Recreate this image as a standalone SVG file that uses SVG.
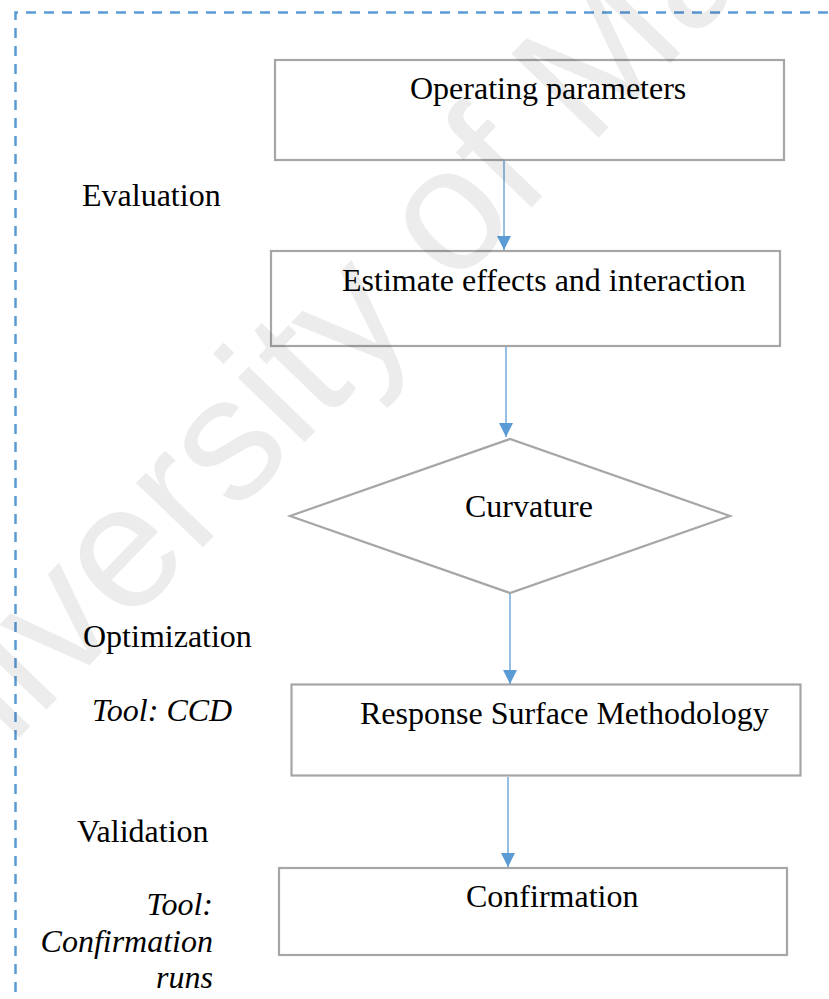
<svg xmlns="http://www.w3.org/2000/svg" width="829" height="999" viewBox="0 0 829 999">
  <defs>
    <style>
      .box { fill: #ffffff; stroke: #a6a6a6; stroke-width: 2.2; }
      .lbl { font-family: "Liberation Serif", "Times New Roman", serif; font-size: 32px; fill: #000000; }
      .it { font-style: italic; }
      .conn { stroke: #5b9bd5; stroke-width: 1.3; fill: none; marker-end: url(#head); }
      .frame { fill: none; stroke: #5b9bd5; stroke-width: 2.5; stroke-dasharray: 10 8; }
      .wm { font-family: "Liberation Sans", Arial, sans-serif; font-size: 176px; fill: #000000; fill-opacity: 0.075; }
    </style>
    <marker id="head" markerUnits="userSpaceOnUse" markerWidth="14" markerHeight="14" refX="14" refY="7" orient="auto">
      <path d="M0,0 L14,7 L0,14 Z" fill="#5b9bd5"/>
    </marker>
  </defs>

  <rect width="829" height="999" fill="#ffffff"/>

  <!-- dashed enclosing frame (runs off the right and bottom edges) -->
  <path class="frame" d="M15.5,1010 V12.5 H840"/>

  <!-- stage labels on the left -->
  <g id="stage-labels">
    <text class="lbl" x="82" y="206">Evaluation</text>
    <text class="lbl" x="83" y="647">Optimization</text>
    <text class="lbl it" x="92" y="721">Tool: CCD</text>
    <text class="lbl" x="77" y="842">Validation</text>
    <text class="lbl it" text-anchor="end" x="213" y="915">Tool:</text>
    <text class="lbl it" text-anchor="end" x="213" y="951.5">Confirmation</text>
    <text class="lbl it" text-anchor="end" x="213" y="988">runs</text>
  </g>

  <g id="operating-parameters">
    <rect class="box" x="275" y="60" width="509" height="100"/>
    <text class="lbl" x="410" y="99">Operating parameters</text>
  </g>

  <g id="estimate-effects">
    <rect class="box" x="271" y="251" width="509" height="95"/>
    <text class="lbl" x="342" y="291">Estimate effects and interaction</text>
  </g>

  <g id="curvature">
    <polygon class="box" points="290,516 510,439 730,516 510,593"/>
    <text class="lbl" x="465" y="517">Curvature</text>
  </g>

  <g id="response-surface">
    <rect class="box" x="291.5" y="684.5" width="509" height="91"/>
    <text class="lbl" x="360" y="724">Response Surface Methodology</text>
  </g>

  <g id="confirmation">
    <rect class="box" x="279" y="868" width="508" height="87"/>
    <text class="lbl" x="466" y="907">Confirmation</text>
  </g>

  <g id="connectors">
    <line class="conn" x1="504" y1="161" x2="504" y2="250"/>
    <line class="conn" x1="506" y1="347" x2="506" y2="437"/>
    <line class="conn" x1="510" y1="594" x2="510" y2="684"/>
    <line class="conn" x1="508" y1="777" x2="508" y2="867"/>
  </g>

  <!-- diagonal watermark -->
  <text class="wm" transform="translate(-118,880) rotate(-46)">University of Malaya</text>
</svg>
